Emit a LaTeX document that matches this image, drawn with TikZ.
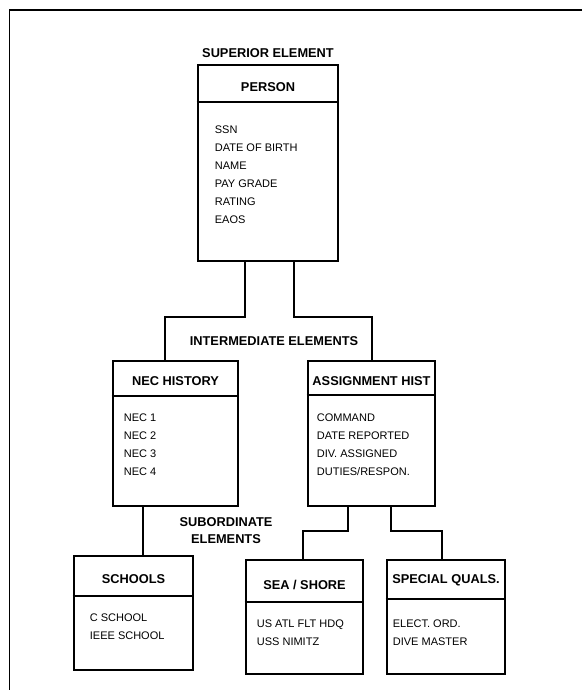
\documentclass[tikz,border=0pt]{standalone}
\usepackage{fontspec}
\setmainfont{Liberation Sans}
\usepackage{tikz}

\tikzset{
  frame/.style={line width=1.8pt},
  entity/.style={draw, line width=2.6pt, inner sep=0pt},
  divider/.style={line width=2pt},
  link/.style={line width=2pt},
  head/.style={inner sep=0pt, font=\fontsize{12.8}{15}\selectfont\bfseries},
  grouplabel/.style={inner sep=0pt, align=center, font=\fontsize{12.8}{17}\selectfont\bfseries},
  items/.style={anchor=north west, align=left, inner sep=0pt, font=\fontsize{11}{18}\selectfont}
}

\begin{document}
\begin{tikzpicture}[x=1pt, y=-1pt]
\useasboundingbox (0,0) rectangle (582,690);
\draw[frame] (582,10) -- (9.5,10) -- (9.5,690);

% superior element
\node[grouplabel] (suplabel) at (268,53) {SUPERIOR ELEMENT};
\node[entity, minimum width=140pt, minimum height=196pt] (person) at (268,163) {};
\draw[divider] ([yshift=-38pt]person.north west) -- ([yshift=-38pt]person.north east);
\node[head] (personhead) at ([yshift=-23pt]person.north) {PERSON};
\node[items] (personitems) at ([xshift=18pt,yshift=-62pt]person.north west)
  {SSN\\DATE OF BIRTH\\NAME\\PAY GRADE\\RATING\\EAOS};

% intermediate elements
\node[grouplabel] (intlabel) at (274,341) {INTERMEDIATE ELEMENTS};
\node[entity, minimum width=125pt, minimum height=145pt] (nec) at (175.5,433.5) {};
\draw[divider] ([yshift=-36pt]nec.north west) -- ([yshift=-36pt]nec.north east);
\node[head] (nechead) at ([yshift=-21pt]nec.north) {NEC HISTORY};
\node[items] (necitems) at ([xshift=12pt,yshift=-54pt]nec.north west)
  {NEC 1\\NEC 2\\NEC 3\\NEC 4};

\node[entity, minimum width=127pt, minimum height=145pt] (assign) at (371.5,433.5) {};
\draw[divider] ([yshift=-35pt]assign.north west) -- ([yshift=-35pt]assign.north east);
\node[head] (assignhead) at ([yshift=-21pt]assign.north) {ASSIGNMENT HIST};
\node[items] (assignitems) at ([xshift=10pt,yshift=-54pt]assign.north west)
  {COMMAND\\DATE REPORTED\\DIV. ASSIGNED\\DUTIES/RESPON.};

% subordinate elements
\node[grouplabel] (sublabel) at (226,531) {SUBORDINATE\\ELEMENTS};
\node[entity, minimum width=119pt, minimum height=114pt] (schools) at (133.5,613) {};
\draw[divider] ([yshift=-41pt]schools.north west) -- ([yshift=-41pt]schools.north east);
\node[head] (schoolshead) at ([yshift=-24pt]schools.north) {SCHOOLS};
\node[items] (schoolsitems) at ([xshift=17pt,yshift=-59pt]schools.north west)
  {C SCHOOL\\IEEE SCHOOL};

\node[entity, minimum width=117pt, minimum height=114pt] (sea) at (304.5,617) {};
\draw[divider] ([yshift=-43pt]sea.north west) -- ([yshift=-43pt]sea.north east);
\node[head] (seahead) at ([yshift=-26pt]sea.north) {SEA / SHORE};
\node[items] (seaitems) at ([xshift=12pt,yshift=-61pt]sea.north west)
  {US ATL FLT HDQ\\USS NIMITZ};

\node[entity, minimum width=118pt, minimum height=114pt] (special) at (446,617) {};
\draw[divider] ([yshift=-40pt]special.north west) -- ([yshift=-40pt]special.north east);
\node[head] (specialhead) at ([yshift=-22pt]special.north) {SPECIAL QUALS.};
\node[items] (specialitems) at ([xshift=7pt,yshift=-61pt]special.north west)
  {ELECT. ORD.\\DIVE MASTER};

% connectors
\draw[link] ([xshift=-23pt]person.south) -- ++(0,55) -| ([xshift=-10.5pt]nec.north);
\draw[link] ([xshift=26pt]person.south) -- ++(0,55) -| ([xshift=0.5pt]assign.north);
\draw[link] ([xshift=-32.5pt]nec.south) -- ([xshift=9.5pt]schools.north);
\draw[link] ([xshift=-23.5pt]assign.south) -- ++(0,24) -| ([xshift=-1.5pt]sea.north);
\draw[link] ([xshift=19.5pt]assign.south) -- ++(0,24) -| ([xshift=-4pt]special.north);
\end{tikzpicture}
\end{document}
